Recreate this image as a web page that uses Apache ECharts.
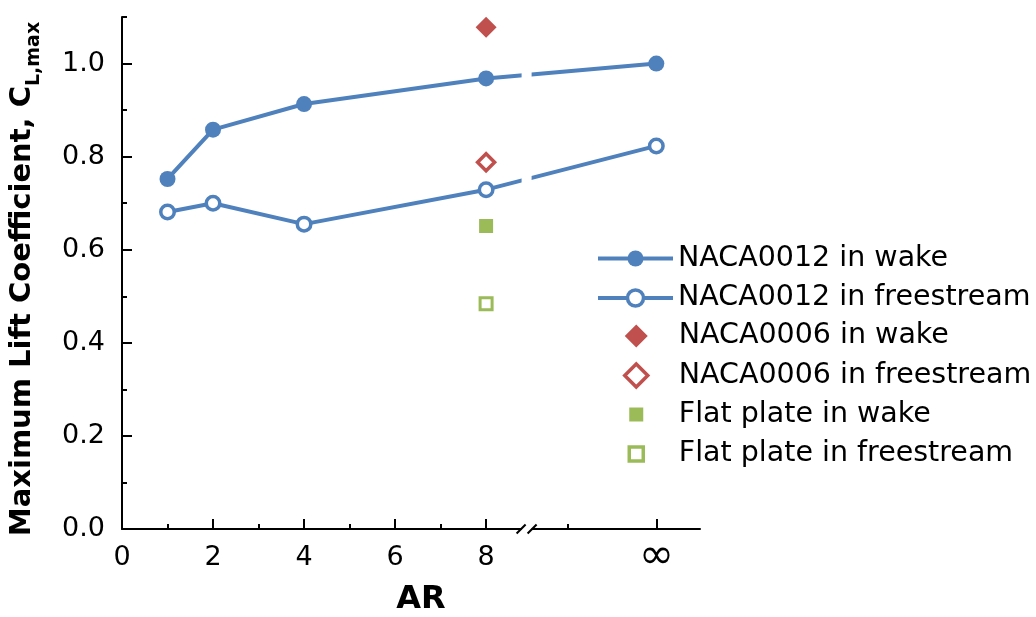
<!DOCTYPE html>
<html>
<head>
<meta charset="utf-8">
<script src="https://cdn.jsdelivr.net/npm/echarts@6/dist/echarts.min.js"></script>
<style>
html,body{margin:0;padding:0;background:#fff;}
#chart{width:1036px;height:617px;}
</style>
</head>
<body>
<div id="chart"></div>
<script>
// ---- data ----
const INF_X = 11.74;           // axis position used for AR = infinity
const BREAK_X = 8.89;          // axis-break position
const arValues = [1, 2, 4, 8, INF_X];
const naca0012Wake = [0.752, 0.858, 0.913, 0.968, 1.0];
const naca0012Free = [0.681, 0.700, 0.655, 0.729, 0.823];
const naca0006AR = [8];
const naca0006Wake = [1.078];
const naca0006Free = [0.788];
const flatAR = [8];
const flatWake = [0.651];
const flatFree = [0.484];
const xTickValues = [0, 2, 4, 6, 8, INF_X];
const xTickLabels = ['0', '2', '4', '6', '8', '∞'];
const xMinorTicks = [1, 3, 5, 7, 9.8];
const yTickValues = [0, 0.2, 0.4, 0.6, 0.8, 1.0];
const yMinorTicks = [0.1, 0.3, 0.5, 0.7, 0.9, 1.1];

const BLUE = '#4f81bd', RED = '#c0504d', GREEN = '#9bbb59';
const FONT = 'DejaVu Sans';

const pair = (xs, ys) => xs.map((x, i) => [x, ys[i]]);

const chart = echarts.init(document.getElementById('chart'), null, {renderer: 'canvas'});

const baseX = {type: 'value', min: 0, max: 12.7, splitLine: {show: false}};
const baseY = {type: 'value', min: 0, max: 1.1, splitLine: {show: false}};

const legendCommon = {
  orient: 'vertical', padding: 0, itemWidth: 75,
  textStyle: {fontFamily: FONT, fontSize: 28.5, color: '#000'},
  selectedMode: false
};

chart.setOption({
  animation: false,
  backgroundColor: '#fff',
  grid: {left: 122, right: 336, top: 17, bottom: 88, containLabel: false, outerBoundsMode: 'none'},
  xAxis: [
    Object.assign({}, baseX, {
      position: 'bottom',
      name: 'AR', nameLocation: 'middle', nameGap: 54,
      nameTextStyle: {fontFamily: FONT, fontSize: 32, fontWeight: 'bold', color: '#000', padding: [0, 0, 0, 20]},
      axisLine: {show: true, onZero: false, lineStyle: {color: '#000', width: 2}},
      axisTick: {show: true, inside: true, length: 10, lineStyle: {color: '#000', width: 2}, customValues: xTickValues},
      axisLabel: {
        show: true, margin: 15, customValues: xTickValues,
        fontFamily: FONT, fontSize: 27, color: '#000',
        formatter: v => {
          const i = xTickValues.findIndex(t => Math.abs(t - v) < 1e-6);
          const s = i >= 0 ? xTickLabels[i] : '';
          return s === '∞' ? '{inf|∞}' : s;
        },
        rich: {inf: {fontFamily: FONT, fontSize: 42, lineHeight: 27, color: '#000'}}
      }
    }),
    Object.assign({}, baseX, {
      position: 'bottom',
      axisLine: {show: false, onZero: false},
      axisTick: {show: true, inside: true, length: 5, lineStyle: {color: '#000', width: 2}, customValues: xMinorTicks},
      axisLabel: {show: false}
    })
  ],
  yAxis: [
    Object.assign({}, baseY, {
      position: 'left',
      name: '{a|Maximum Lift Coefficient, C}{b|L,max}',
      nameLocation: 'middle', nameGap: 78,
      nameTextStyle: {
        padding: [0, 12, 0, 0],
        rich: {
          a: {fontFamily: FONT, fontSize: 29, fontWeight: 'bold', color: '#000', padding: [0, 0, 7, 0]},
          b: {fontFamily: FONT, fontSize: 19, fontWeight: 'bold', color: '#000', verticalAlign: 'bottom'}
        }
      },
      axisLine: {show: true, onZero: false, lineStyle: {color: '#000', width: 2}},
      axisTick: {show: true, inside: true, length: 10, lineStyle: {color: '#000', width: 2}, customValues: yTickValues},
      axisLabel: {
        show: true, margin: 17, customValues: yTickValues,
        fontFamily: FONT, fontSize: 27, color: '#000',
        formatter: v => v.toFixed(1)
      }
    }),
    Object.assign({}, baseY, {
      position: 'left',
      axisLine: {show: false, onZero: false},
      axisTick: {show: true, inside: true, length: 5, lineStyle: {color: '#000', width: 2}, customValues: yMinorTicks},
      axisLabel: {show: false}
    })
  ],
  legend: [
    Object.assign({}, legendCommon, {
      left: 596, top: 244, itemHeight: 20, itemGap: 10.5,
      lineStyle: {width: 4},
      data: [
        {name: 'NACA0012 in wake'},
        {name: 'NACA0012 in freestream', itemStyle: {borderWidth: 3.5}}
      ]
    }),
    Object.assign({}, legendCommon, {
      left: 623, top: 321.5, itemHeight: 23, itemGap: 10.5,
      data: [
        {name: 'NACA0006 in wake', icon: 'path://M0,-1L1,0L0,1L-1,0Z'},
        {name: 'NACA0006 in freestream', icon: 'path://M0,-1L1,0L0,1L-1,0Z', itemStyle: {borderWidth: 3.5}}
      ]
    }),
    Object.assign({}, legendCommon, {
      left: 627.5, top: 400, itemHeight: 14, itemGap: 10.5,
      data: [
        {name: 'Flat plate in wake', icon: 'path://M0,0L1,0L1,1L0,1Z'},
        {name: 'Flat plate in freestream', icon: 'path://M0,0L1,0L1,1L0,1Z', itemStyle: {borderWidth: 3.5}}
      ]
    })
  ],
  series: [
    {
      name: 'NACA0012 in wake', type: 'line', xAxisIndex: 0, yAxisIndex: 0,
      data: pair(arValues, naca0012Wake),
      symbol: 'circle', symbolSize: 16,
      lineStyle: {color: BLUE, width: 4}, itemStyle: {color: BLUE}, z: 3
    },
    {
      name: 'NACA0012 in freestream', type: 'line', xAxisIndex: 0, yAxisIndex: 0,
      data: pair(arValues, naca0012Free),
      symbol: 'circle', symbolSize: 13.5,
      lineStyle: {color: BLUE, width: 4}, itemStyle: {color: '#fff', borderColor: BLUE, borderWidth: 3.5}, z: 3
    },
    {
      name: 'NACA0006 in wake', type: 'scatter', data: pair(naca0006AR, naca0006Wake),
      symbol: 'diamond', symbolSize: 21, itemStyle: {color: RED, opacity: 1}
    },
    {
      name: 'NACA0006 in freestream', type: 'scatter', data: pair(naca0006AR, naca0006Free),
      symbol: 'diamond', symbolSize: 17, itemStyle: {color: '#fff', borderColor: RED, borderWidth: 3.5, opacity: 1}
    },
    {
      name: 'Flat plate in wake', type: 'scatter', data: pair(flatAR, flatWake),
      symbol: 'rect', symbolSize: 14, itemStyle: {color: GREEN, opacity: 1}
    },
    {
      name: 'Flat plate in freestream', type: 'scatter', data: pair(flatAR, flatFree),
      symbol: 'rect', symbolSize: 12, itemStyle: {color: '#fff', borderColor: GREEN, borderWidth: 3, opacity: 1}
    },
    {
      name: 'axis-break', type: 'custom', z: 10, silent: true,
      xAxisIndex: 0, yAxisIndex: 0,
      data: [[BREAK_X, 0]],
      renderItem: (params, api) => {
        const p = api.coord([api.value(0), api.value(1)]);
        const top = api.coord([api.value(0), 1.1]);
        return {
          type: 'group',
          children: [
            {type: 'rect', shape: {x: p[0] - 5, y: top[1] - 2, width: 10, height: p[1] - top[1] + 4}, style: {fill: '#fff'}},
            {type: 'line', shape: {x1: p[0] - 10, y1: p[1] + 4.5, x2: p[0] - 1, y2: p[1] - 4.5}, style: {stroke: '#000', lineWidth: 2}},
            {type: 'line', shape: {x1: p[0] + 1, y1: p[1] + 4.5, x2: p[0] + 10, y2: p[1] - 4.5}, style: {stroke: '#000', lineWidth: 2}}
          ]
        };
      }
    }
  ]
});
</script>
</body>
</html>
